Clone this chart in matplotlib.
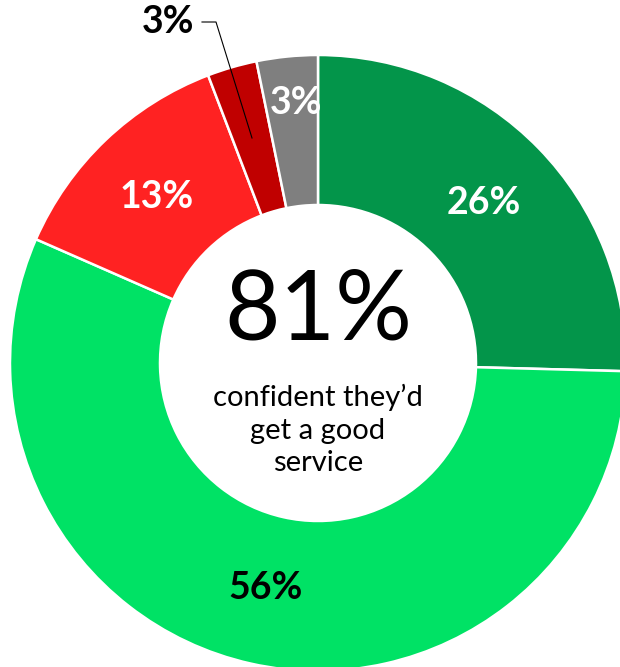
import matplotlib.pyplot as plt

# shares (clockwise from 12 o'clock)
segments = ['Very confident', 'Fairly confident', 'Not very confident', 'Not at all confident', "Don't know"]
shares = [25.4, 56.1, 12.6, 2.6, 3.2]
labels = ['26%', '56%', '13%', '3%', '3%']
colors = ['#03954A', '#00E265', '#FF2222', '#C00000', '#7F7F7F']
label_colors = ['white', 'black', 'white', 'black', 'white']

headline = '81%'
subline = 'confident they\u2019d\nget a good\nservice'

plt.rcParams['font.family'] = ['Lato', 'DejaVu Sans']

fig = plt.figure(figsize=(6.2, 6.67), dpi=100)
ax = fig.add_axes([0, 0, 1, 1])

cx, cy, R, r = 318, 304, 308, 158
wedges, _ = ax.pie(shares, colors=colors, startangle=90, counterclock=False,
                   center=(cx, cy), radius=R, frame=True,
                   wedgeprops=dict(width=R - r, edgecolor='white', linewidth=1.8))
ax.set_xlim(0, 620)
ax.set_ylim(0, 667)
ax.set_aspect('equal')
ax.axis('off')

# label positions (pixel coords, origin bottom-left)
label_pos = [(484, 464), (266, 79), (157, 470), (168, 645), (296, 564)]
for (x, y), txt, c in zip(label_pos, labels, label_colors):
    ax.text(x, y, txt, ha='center', va='center', color=c,
            fontsize=27, fontweight='bold')

# leader line for the small dark red slice
ax.plot([202, 216, 252], [645, 645, 529], color='black', linewidth=0.8)

ax.text(cx, 355, headline, ha='center', va='center', fontsize=69, color='black')
ax.text(cx, 237, subline, ha='center', va='center', fontsize=21,
        color='black', linespacing=1.32)

fig.savefig('out.png', dpi=100)
